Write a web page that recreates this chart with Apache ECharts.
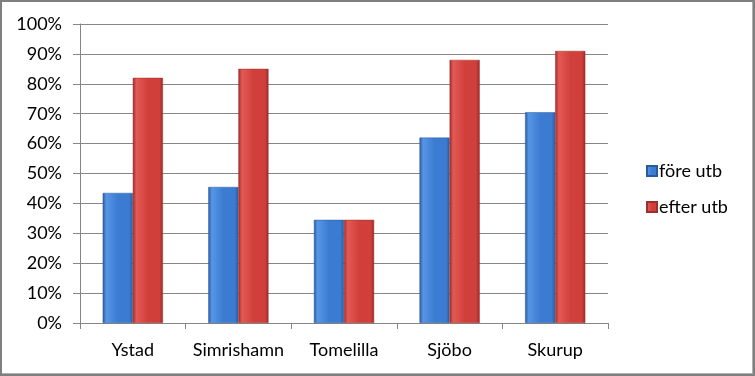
<!DOCTYPE html>
<html>
<head>
<meta charset="utf-8">
<script src="https://cdn.jsdelivr.net/npm/echarts@6/dist/echarts.min.js"></script>
<style>
  html, body { margin: 0; padding: 0; background: #fff; }
  #wrap { position: relative; width: 755px; height: 376px; }
  #chart { position: absolute; left: 0; top: 0; width: 755px; height: 376px; }
  #frame { position: absolute; left: 0; top: 0; width: 755px; height: 376px; box-sizing: border-box;
           border: 2px solid #7f7f7f; box-shadow: inset -1px -1px 0 #b0b0b0; pointer-events: none; }
</style>
</head>
<body>
<div id="wrap">
  <div id="chart"></div>
  <div id="frame"></div>
</div>
<script>
var categories = ['Ystad', 'Simrishamn', 'Tomelilla', 'Sjöbo', 'Skurup'];
var foreUtb = [43.5, 45.5, 34.5, 62, 70.5];
var efterUtb = [82, 85, 34.5, 88, 91];
var seriesNames = ['före utb', 'efter utb'];

function barFill(dark, mid, light) {
	return new echarts.graphic.LinearGradient(0, 0, 1, 0, [
		{ offset: 0, color: dark },
		{ offset: 0.12, color: light },
		{ offset: 0.5, color: mid },
		{ offset: 0.88, color: mid },
		{ offset: 1, color: dark }
	]);
}

var myChart = echarts.init(document.getElementById('chart'));

var fontFamily = 'Lato';

var option = {
	animation: false,
	textStyle: { fontFamily: fontFamily },
	grid: { left: 80, right: 147, top: 24, bottom: 53 },
	legend: {
		orient: 'vertical',
		left: 641,
		top: 157,
		itemWidth: 10,
		itemHeight: 10,
		itemGap: 18,
		icon: 'rect',
		textStyle: { fontSize: 18, color: '#000', fontFamily: fontFamily, padding: [0, 0, 0, -3] },
		data: seriesNames
	},
	xAxis: {
		type: 'category',
		data: categories,
		axisLine: { lineStyle: { color: '#868686', width: 1 } },
		axisTick: { show: true, length: 6, lineStyle: { color: '#868686' } },
		axisLabel: { color: '#000', fontSize: 18, margin: 18, interval: 0, hideOverlap: false, fontFamily: fontFamily }
	},
	yAxis: {
		type: 'value',
		min: 0,
		max: 100,
		interval: 10,
		axisLine: { show: true, lineStyle: { color: '#868686', width: 1 } },
		axisTick: { show: true, length: 7, lineStyle: { color: '#868686' } },
		axisLabel: { color: '#000', fontSize: 18, margin: 18, formatter: '{value}%', fontFamily: fontFamily },
		splitLine: { lineStyle: { color: '#868686', width: 1 } }
	},
	series: [
		{
			name: seriesNames[0],
			type: 'bar',
			data: foreUtb,
			barGap: '0%',
			barCategoryGap: '43%',
			itemStyle: {
				color: barFill('#2a5a9e', '#3b7cd2', '#5795e6'),
				borderColor: '#2b5a98',
				borderWidth: 0.5
			}
		},
		{
			name: seriesNames[1],
			type: 'bar',
			data: efterUtb,
			barGap: '0%',
			barCategoryGap: '43%',
			itemStyle: {
				color: barFill('#9e2a27', '#d13f3b', '#e35a55'),
				borderColor: '#98302c',
				borderWidth: 0.5
			}
		}
	]
};

myChart.setOption(option);
</script>
</body>
</html>
